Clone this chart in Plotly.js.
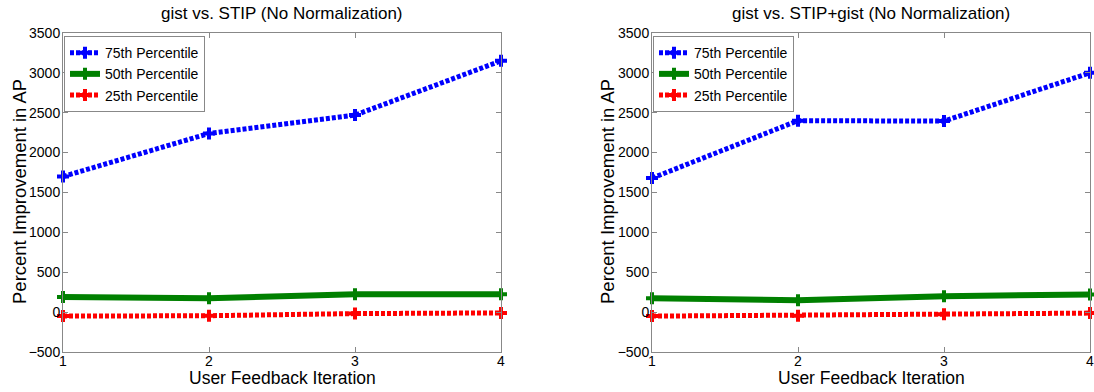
<!DOCTYPE html>
<html>
<head>
<meta charset="utf-8">
<script src="https://cdn.plot.ly/plotly-3.0.1.min.js"></script>
<style>html,body{margin:0;padding:0;background:#fff}#chart{width:1094px;height:392px}</style>
</head>
<body>
<div id="chart"></div>
<script>
const iterations = [1, 2, 3, 4];
const seriesNames = ["75th Percentile", "50th Percentile", "25th Percentile"];
// Left panel: gist vs. STIP
const leftP75 = [1700, 2240, 2470, 3150];
const leftP50 = [190, 175, 225, 225];
const leftP25 = [-50, -45, -18, -10];
// Right panel: gist vs. STIP+gist
const rightP75 = [1680, 2400, 2395, 3000];
const rightP50 = [175, 150, 200, 222];
const rightP25 = [-50, -45, -25, -12];
const yTicks = [-500, 0, 500, 1000, 1500, 2000, 2500, 3000, 3500];
const xTicks = [1, 2, 3, 4];
const titles = ["gist vs. STIP (No Normalization)", "gist vs. STIP+gist (No Normalization)"];
const xTitle = "User Feedback Iteration";
const yTitle = "Percent Improvement in AP";

const font = "Liberation Sans, Arial, sans-serif";
const styles = [
  {color: "#0000ff", width: 5, dash: "4px,2px"},
  {color: "#008000", width: 6, dash: "solid"},
  {color: "#ff0000", width: 5, dash: "4px,2px"}
];

function mk(vals, i, xa, ya, leg) {
  return {
    x: iterations, y: vals, type: "scatter", mode: "lines+markers",
    name: seriesNames[i], xaxis: xa, yaxis: ya, legend: leg,
    line: {color: styles[i].color, width: styles[i].width, dash: styles[i].dash},
    marker: {symbol: "cross", size: 10, color: styles[i].color},
    cliponaxis: false
  };
}
const data = [
  mk(leftP75, 0, "x", "y", "legend"),
  mk(leftP50, 1, "x", "y", "legend"),
  mk(leftP25, 2, "x", "y", "legend"),
  mk(rightP75, 0, "x2", "y2", "legend2"),
  mk(rightP50, 1, "x2", "y2", "legend2"),
  mk(rightP25, 2, "x2", "y2", "legend2")
];

function xax(dom, anchor) {
  return {domain: dom, anchor: anchor, range: [1, 4], tickvals: xTicks, ticks: "inside", ticklen: 5,
    tickcolor: "#888", showline: true, linecolor: "#888", linewidth: 1, mirror: "ticks",
    showgrid: false, zeroline: false, ticklabelstandoff: -4, ticklabeloverflow: "allow",
    tickfont: {family: font, size: 14, color: "#000"}};
}
function yax(anchor) {
  return {domain: [0.102, 0.916], anchor: anchor, range: [-500, 3500], tickvals: yTicks, ticks: "inside", ticklen: 5,
    tickcolor: "#888", showline: true, linecolor: "#888", linewidth: 1, mirror: "ticks",
    showgrid: false, zeroline: false, ticklabelstandoff: -1, ticklabeloverflow: "allow",
    tickfont: {family: font, size: 14, color: "#000"}};
}
const legStyle = (x) => ({x: x, y: 0.908, xanchor: "left", yanchor: "top", xref: "paper", yref: "paper",
  bgcolor: "#fff", bordercolor: "#888", borderwidth: 1, font: {family: font, size: 14, color: "#000"},
  tracegroupgap: 0, itemwidth: 30});

const ann = [];
const centers = [282 / 1094, 871 / 1094];
centers.forEach((c, i) => {
  ann.push({text: titles[i], x: c, y: 1 - 14 / 392, xref: "paper", yref: "paper", showarrow: false,
    xanchor: "center", yanchor: "middle", font: {family: font, size: 17, color: "#000"}});
  ann.push({text: xTitle, x: c, y: 1 - 378 / 392, xref: "paper", yref: "paper", showarrow: false,
    xanchor: "center", yanchor: "middle", font: {family: font, size: 17.5, color: "#000"}});
});
[19 / 1094, 607 / 1094].forEach((x) => {
  ann.push({text: yTitle, x: x, y: 1 - 192 / 392, xref: "paper", yref: "paper", showarrow: false,
    textangle: -90, xanchor: "center", yanchor: "middle", font: {family: font, size: 18.5, color: "#000"}});
});

const layout = {
  width: 1094, height: 392, margin: {l: 0, r: 0, t: 0, b: 0},
  paper_bgcolor: "#fff", plot_bgcolor: "#fff", font: {family: font},
  xaxis: xax([63 / 1094, 501 / 1094], "y"),
  yaxis: yax("x"),
  xaxis2: xax([652 / 1094, 1090 / 1094], "y2"),
  yaxis2: yax("x2"),
  legend: legStyle(64 / 1094),
  legend2: legStyle(653 / 1094),
  annotations: ann,
  showlegend: true
};
Plotly.newPlot("chart", data, layout, {displayModeBar: false, staticPlot: true});
</script>
</body>
</html>
